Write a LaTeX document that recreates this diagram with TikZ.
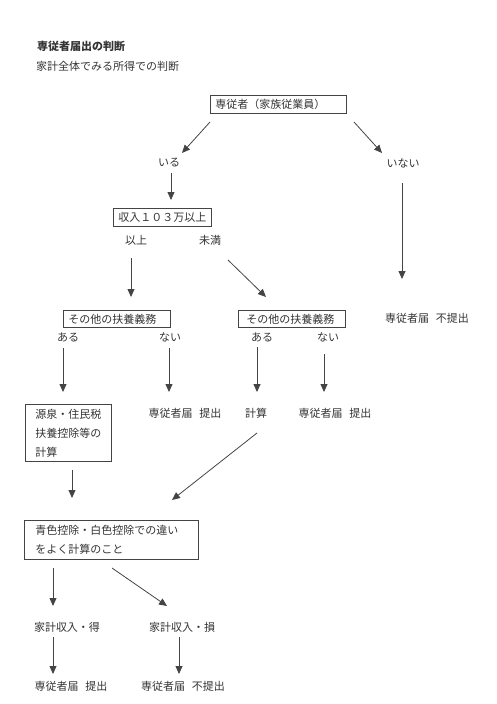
\documentclass[tikz,border=0pt]{standalone}
\usepackage{fontspec}
\setmainfont{Noto Sans CJK JP}
\usetikzlibrary{arrows.meta}
\definecolor{ink}{HTML}{333333}
\definecolor{edge}{HTML}{444444}
\begin{document}
\begin{tikzpicture}[x=1pt,y=-1pt,
  every node/.style={font=\fontsize{11pt}{19pt}\selectfont, text=ink, inner sep=0pt},
  lbl/.style={anchor=center},
  boxnode/.style={draw=edge, line width=0.8pt, anchor=north west, align=left, minimum height=18pt},
  arr/.style={draw=edge, line width=0.8pt, -{Triangle[length=8pt,width=7pt]}}
]
\useasboundingbox (0,0) rectangle (496,704);
% titles
\node[anchor=west] (t1) at (37,46) {\bfseries 専従者届出の判断};
\node[anchor=west] (t2) at (36,66) {家計全体でみる所得での判断};
% boxes
\node[boxnode, inner xsep=5pt, text width=126pt] (b1) at (210,95) {専従者（家族従業員）};
\node[boxnode, inner xsep=5pt, text width=88pt, minimum height=18pt] (b2) at (113,208) {収入１０３万以上};
\node[boxnode, inner xsep=5pt, text width=97pt, minimum height=17pt] (b3) at (63,310) {その他の扶養義務};
\node[boxnode, inner xsep=8pt, text width=91pt, minimum height=17pt] (b4) at (238,310) {その他の扶養義務};
\node[boxnode, inner xsep=10pt, text width=66pt, minimum height=57pt] (b5) at (25,404) {源泉・住民税\\扶養控除等の\\計算};
\node[boxnode, inner xsep=11pt, text width=152pt, minimum height=39pt] (b6) at (24,520) {青色控除・白色控除での違い\\をよく計算のこと};
% labels
\node[lbl] (iru) at (169,163) {いる};
\node[lbl] (inai) at (403,163) {いない};
\node[lbl] (ijo) at (136,240) {以上};
\node[lbl] (miman) at (210,240) {未満};
\node[lbl] (aru1) at (68,337) {ある};
\node[lbl] (nai1) at (170,337) {ない};
\node[lbl] (aru2) at (262,337) {ある};
\node[lbl] (nai2) at (328,337) {ない};
\node[lbl] (tei1) at (185,413) {専従者届\hspace{0.6em}提出};
\node[lbl] (keisan) at (256,413) {計算};
\node[lbl] (tei2) at (335,413) {専従者届\hspace{0.6em}提出};
\node[lbl] (futei1) at (427,318) {専従者届\hspace{0.6em}不提出};
\node[lbl] (toku) at (67,627) {家計収入・得};
\node[lbl] (son) at (182,627) {家計収入・損};
\node[lbl] (tei3) at (71,686) {専従者届\hspace{0.6em}提出};
\node[lbl] (futei2) at (183,686) {専従者届\hspace{0.6em}不提出};
% connector end points
\coordinate (s1) at (210,122); \coordinate (e1) at (182,153);
\coordinate (s2) at (354,122); \coordinate (e2) at (382,153);
\coordinate (s3) at (171,173); \coordinate (e3) at (171,200);
\coordinate (s4) at (402,183); \coordinate (e4) at (402,279);
\coordinate (s5) at (131,258); \coordinate (e5) at (131,297);
\coordinate (s6) at (228,260); \coordinate (e6) at (266,297);
\coordinate (s7) at (63,348);  \coordinate (e7) at (63,392);
\coordinate (s8) at (169,348); \coordinate (e8) at (169,392);
\coordinate (s9) at (257,347); \coordinate (e9) at (257,392);
\coordinate (s10) at (324,354); \coordinate (e10) at (324,392);
\coordinate (s11) at (257,433); \coordinate (e11) at (172,500);
\coordinate (s12) at (72,470); \coordinate (e12) at (72,498);
\coordinate (s13) at (53,568); \coordinate (e13) at (53,606);
\coordinate (s14) at (112,568); \coordinate (e14) at (167,606);
\coordinate (s15) at (53,637); \coordinate (e15) at (53,674);
\coordinate (s16) at (179,637); \coordinate (e16) at (179,674);
\foreach \i in {1,...,16} { \draw[arr] (s\i) -- (e\i); }
\end{tikzpicture}
\end{document}
